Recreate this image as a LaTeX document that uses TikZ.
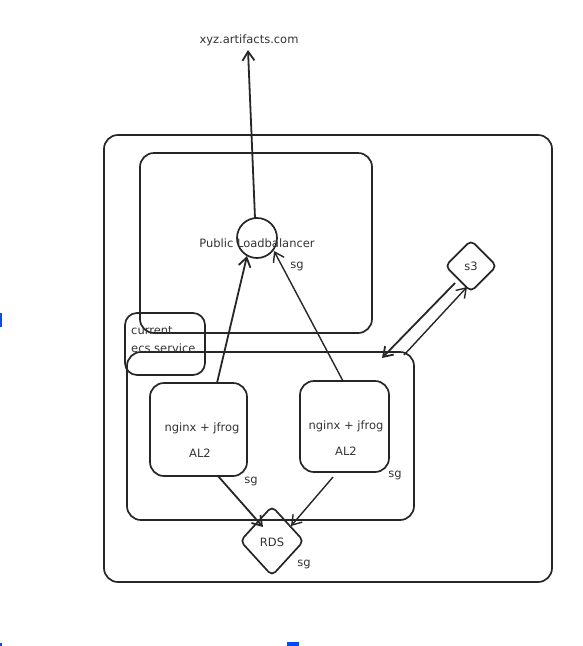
\documentclass[tikz,border=0pt]{standalone}
\usepackage{fontspec}
\setmainfont{DejaVu Sans}
\usetikzlibrary{shapes.geometric,arrows.meta}
\begin{document}
\begin{tikzpicture}[x=1pt,y=-1pt,
  box/.style={draw=black!85,line width=1.7pt,rounded corners=14pt},
  lbl/.style={font=\fontsize{11.5}{12}\selectfont,text=black!80,inner sep=0pt},
  conn/.style={draw=black!85,line width=1.8pt,-{Straight Barb[length=9pt,width=12pt]}},
  dia/.style={draw=black!85,line width=1.7pt,diamond,rounded corners=5pt,inner sep=0pt}]
\useasboundingbox (0,0) rectangle (583,646);
% containers
\node[box,minimum width=448pt,minimum height=447pt] (outer) at (328,358.5) {};
\node[box,minimum width=232pt,minimum height=180pt] (lbbox) at (256,243) {};
\node[box,minimum width=287pt,minimum height=168pt] (ecs) at (270.5,436) {};
\node[box,rounded corners=12pt,minimum width=80pt,minimum height=62pt] (cur) at (165,344) {};
\node[lbl,anchor=west] (curt1) at (131,331) {current};
\node[lbl,anchor=west] (curt2) at (131,348) {ecs service};
% load balancer
\node[draw=black!85,line width=1.7pt,circle,minimum size=40pt] (lb) at (257,238) {};
\node[lbl] (lbt) at (257,243) {Public Loadbalancer};
\node[lbl] (lbsg) at (297,266) {sg};
% top label
\node[lbl] (xyz) at (249,40) {xyz.artifacts.com};
% nginx nodes
\node[box,minimum width=97pt,minimum height=93pt] (n1) at (198.5,429.5) {};
\node[lbl] (n1a) at (202,428) {nginx + jfrog};
\node[lbl] (n1b) at (200,453) {AL2};
\node[lbl] (n1sg) at (251,481) {sg};
\node[box,minimum width=89pt,minimum height=91pt] (n2) at (344.5,426.5) {};
\node[lbl] (n2a) at (346,426) {nginx + jfrog};
\node[lbl] (n2b) at (346,451) {AL2};
\node[lbl] (n2sg) at (395,475) {sg};
% RDS
\node[dia,minimum width=64pt,minimum height=70pt] (rds) at (272,541) {};
\node[lbl] (rdst) at (272,542) {RDS};
\node[lbl] (rdssg) at (304,564) {sg};
% s3
\node[dia,minimum width=52pt,minimum height=52pt] (s3) at (471,266) {};
\node[lbl] (s3t) at (471,266) {s3};
% coordinates
\coordinate (lbtop) at (255,218);
\coordinate (xyzb) at (248,50);
\coordinate (n1t) at (217,383);
\coordinate (lbl1) at (247,256);
\coordinate (n2t) at (343,381);
\coordinate (lbr) at (274,251);
\coordinate (n1bt) at (218,476);
\coordinate (rdsl) at (263,527);
\coordinate (n2bt) at (333,477);
\coordinate (rdsr) at (291,526);
\coordinate (s3a) at (455,283);
\coordinate (ecsa) at (382,358);
\coordinate (ecsb) at (404,355);
\coordinate (s3b) at (467,287);
% connectors
\draw[conn] (lbtop) -- (xyzb);
\draw[conn] (n1t) -- (lbl1);
\draw[conn,line width=1.4pt] (n2t) -- (lbr);
\draw[conn] (n1bt) -- (rdsl);
\draw[conn,line width=1.4pt] (n2bt) -- (rdsr);
\draw[conn] (s3a) -- (ecsa);
\draw[conn,line width=1.4pt] (ecsb) -- (s3b);
% blue marks
\fill[blue!70!cyan] (0,313) rectangle (2,327);
\fill[blue!70!cyan] (287,642) rectangle (299,646);
\fill[blue!70!cyan] (0,643) rectangle (2,646);
\end{tikzpicture}
\end{document}
